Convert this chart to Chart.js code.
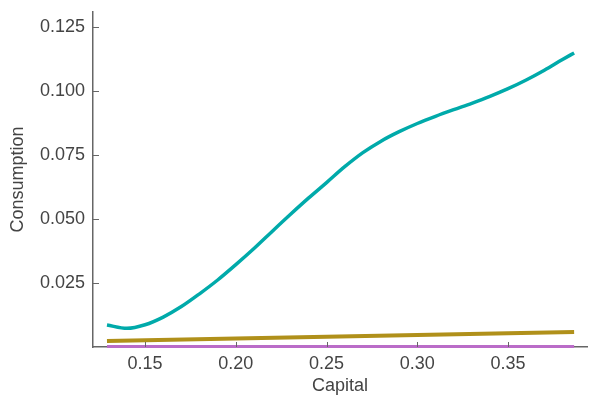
<!DOCTYPE html>
<html>
<head>
<meta charset="utf-8">
<script src="https://cdn.jsdelivr.net/npm/chart.js@4"></script>
<style>
  html, body { margin: 0; padding: 0; background: #fff; }
  #wrap { width: 600px; height: 400px; }
</style>
</head>
<body>
<div id="wrap"><canvas id="consumptionChart" width="600" height="400"></canvas></div>
<script>
// capital grid for the main policy curve
const capital = [0.129, 0.14, 0.15, 0.16, 0.17, 0.18, 0.19, 0.20, 0.21, 0.22, 0.23, 0.24, 0.25,
                 0.26, 0.27, 0.28, 0.29, 0.30, 0.31, 0.32, 0.33, 0.34, 0.35, 0.36, 0.37, 0.38, 0.3864];
const consumptionHigh = [0.0086, 0.0073, 0.0087, 0.0117, 0.0158, 0.0208, 0.0262, 0.0322, 0.0385, 0.0452,
                         0.0518, 0.0582, 0.0643, 0.0705, 0.0760, 0.0805, 0.0842, 0.0874, 0.0902, 0.0928,
                         0.0953, 0.0980, 0.1010, 0.1044, 0.1082, 0.1124, 0.1150];
// flatter curves
const capitalLow = [0.129, 0.20, 0.25, 0.30, 0.35, 0.3864];
const consumptionMid = [0.0023, 0.0033, 0.0040, 0.0047, 0.0054, 0.0059];
const consumptionLow = [0.0002, 0.0002, 0.0002, 0.0002, 0.0002, 0.0002];

const xTicks = [0.15, 0.20, 0.25, 0.30, 0.35];
const yTicks = [0.025, 0.050, 0.075, 0.100, 0.125];

function toPoints(xs, ys) {
    return xs.map((x, i) => ({ x: x, y: ys[i] }));
}

const axisColor = '#666666';
const textColor = '#444444';
const fontFamily = '"Liberation Sans", Arial, Helvetica, sans-serif';

// inward tick marks (chart.js draws them outward)
const innerTicks = {
    id: 'innerTicks',
    afterDraw(chart) {
        const ctx = chart.ctx;
        const x = chart.scales.x, y = chart.scales.y;
        ctx.save();
        ctx.strokeStyle = axisColor;
        ctx.lineWidth = 1;
        xTicks.forEach(v => {
            const px = Math.round(x.getPixelForValue(v)) + 0.5;
            ctx.beginPath();
            ctx.moveTo(px, y.bottom);
            ctx.lineTo(px, y.bottom - 5);
            ctx.stroke();
        });
        yTicks.forEach(v => {
            const py = Math.round(y.getPixelForValue(v)) + 0.5;
            ctx.beginPath();
            ctx.moveTo(x.left, py);
            ctx.lineTo(x.left + 6, py);
            ctx.stroke();
        });
        ctx.restore();
    }
};

new Chart(document.getElementById('consumptionChart').getContext('2d'), {
    type: 'line',
    data: {
        datasets: [
            {
                data: toPoints(capital, consumptionHigh),
                borderColor: 'rgb(0, 170, 170)',
                borderWidth: 3.5,
                pointRadius: 0,
                cubicInterpolationMode: 'monotone',
                fill: false
            },
            {
                data: toPoints(capitalLow, consumptionMid),
                borderColor: 'rgb(176, 144, 26)',
                borderWidth: 4,
                pointRadius: 0,
                tension: 0,
                fill: false
            },
            {
                data: toPoints(capitalLow, consumptionLow),
                borderColor: 'rgb(186, 108, 200)',
                borderWidth: 3,
                pointRadius: 0,
                tension: 0,
                fill: false,
                clip: false
            }
        ]
    },
    options: {
        responsive: false,
        animation: false,
        layout: { padding: { top: 12, right: 13, left: 0, bottom: 0 } },
        plugins: {
            legend: { display: false },
            tooltip: { enabled: false }
        },
        scales: {
            x: {
                type: 'linear',
                min: 0.1213,
                max: 0.3935,
                afterBuildTicks: s => { s.ticks = xTicks.map(v => ({ value: v })); },
                afterFit: s => { s.height = 53; s.paddingLeft = 0; s.paddingRight = 0; },
                grid: { display: false, drawTicks: false, tickLength: 0 },
                border: { display: true, color: axisColor, width: 1.5 },
                ticks: {
                    padding: 6,
                    color: textColor,
                    font: { family: fontFamily, size: 18 },
                    callback: v => v.toFixed(2),
                    maxRotation: 0
                },
                title: {
                    display: true,
                    text: 'Capital',
                    color: textColor,
                    font: { family: fontFamily, size: 18 },
                    padding: { top: 3, bottom: 3 }
                }
            },
            y: {
                min: 0,
                max: 0.131,
                afterBuildTicks: s => { s.ticks = yTicks.map(v => ({ value: v })); },
                afterFit: s => { s.width = 93; s.paddingTop = 0; s.paddingBottom = 0; },
                grid: { display: false, drawTicks: false, tickLength: 0 },
                border: { display: true, color: axisColor, width: 1.5 },
                ticks: {
                    padding: 8,
                    color: textColor,
                    font: { family: fontFamily, size: 18 },
                    callback: v => v.toFixed(3)
                },
                title: {
                    display: true,
                    text: 'Consumption',
                    color: textColor,
                    font: { family: fontFamily, size: 18 },
                    padding: { top: 7, bottom: 0 }
                }
            }
        }
    },
    plugins: [innerTicks]
});
</script>
</body>
</html>
